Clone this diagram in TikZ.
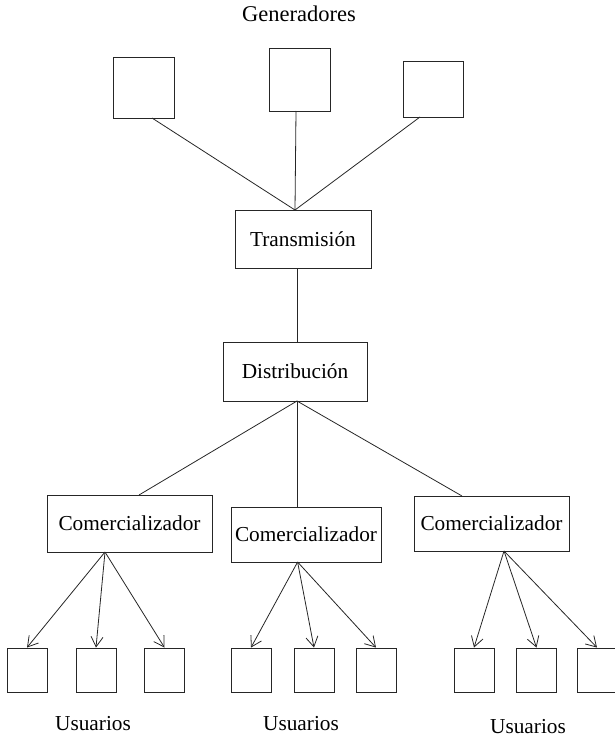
\documentclass[tikz,border=0pt]{standalone}
\usepackage{fontspec}
\setmainfont{Liberation Serif}
\usetikzlibrary{arrows.meta}
\begin{document}
\begin{tikzpicture}[x=1pt,y=-1pt,
  box/.style={draw=black!85,line width=0.9pt,inner sep=0pt,anchor=center,
    font=\fontsize{21.3}{24}\selectfont},
  lbl/.style={inner sep=0pt,anchor=center,font=\fontsize{21.3}{24}\selectfont},
  conn/.style={draw=black!85,line width=0.8pt},
  arr/.style={conn,-{Straight Barb[length=10pt,width=12pt,line width=0.8pt]}}]
\useasboundingbox (0,0) rectangle (614,738);
% labels
\node[lbl,font=\fontsize{22.5}{25}\selectfont] (gen) at (299,14) {Generadores};
\node[lbl] (us1) at (93,724) {Usuarios};
\node[lbl] (us2) at (301,724) {Usuarios};
\node[lbl] (us3) at (528,727) {Usuarios};
% generators
\node[box,minimum width=61pt,minimum height=61pt] (g1) at (143.5,87.5) {};
\node[box,minimum width=61pt,minimum height=63pt] (g2) at (299.5,79.5) {};
\node[box,minimum width=60pt,minimum height=56pt] (g3) at (433,89) {};
% main boxes
\node[box,minimum width=136pt,minimum height=58pt] (tr) at (303,239) {Transmisi\'on};
\node[box,minimum width=144pt,minimum height=59pt] (di) at (295,371.5) {Distribuci\'on};
\node[box,minimum width=165pt,minimum height=57pt] (c1) at (129.5,523.5) {Comercializador};
\node[box,minimum width=150pt,minimum height=55pt] (c2) at (306,534.5) {Comercializador};
\node[box,minimum width=155pt,minimum height=55pt] (c3) at (491.5,523.5) {Comercializador};
% users
\foreach \n/\x in {1/27,2/96,3/164.5,4/251,5/314,6/376,7/474,8/536.5,9/597}
  \node[box,minimum width=40pt,minimum height=44pt] (u\n) at (\x,670) {};
% attachment coordinates
\coordinate (g1b) at (152,118);
\coordinate (g2b) at (296,111);
\coordinate (g3b) at (420,117);
\coordinate (trt) at (295,210);
\coordinate (trb) at (297,268);
\coordinate (dit) at (297,342);
\coordinate (dib) at (297,401);
\coordinate (c1t) at (139,495);
\coordinate (c2t) at (297,507);
\coordinate (c3t) at (462,496);
\coordinate (c1b) at (105,552);
\coordinate (c2b) at (297.6,562);
\coordinate (c3b) at (504,551);
% connectors
\draw[conn] (g1b) -- (trt);
\draw[conn] (g2b) -- (trt);
\draw[conn] (g3b) -- (trt);
\draw[conn] (trb) -- (dit);
\draw[conn] (dib) -- (c1t);
\draw[conn] (dib) -- (c2t);
\draw[conn] (dib) -- (c3t);
\foreach \n in {1,2,3} \draw[arr] (c1b) -- (u\n.north);
\foreach \n in {4,5,6} \draw[arr] (c2b) -- (u\n.north);
\foreach \n in {7,8,9} \draw[arr] (c3b) -- (u\n.north);
\end{tikzpicture}
\end{document}
